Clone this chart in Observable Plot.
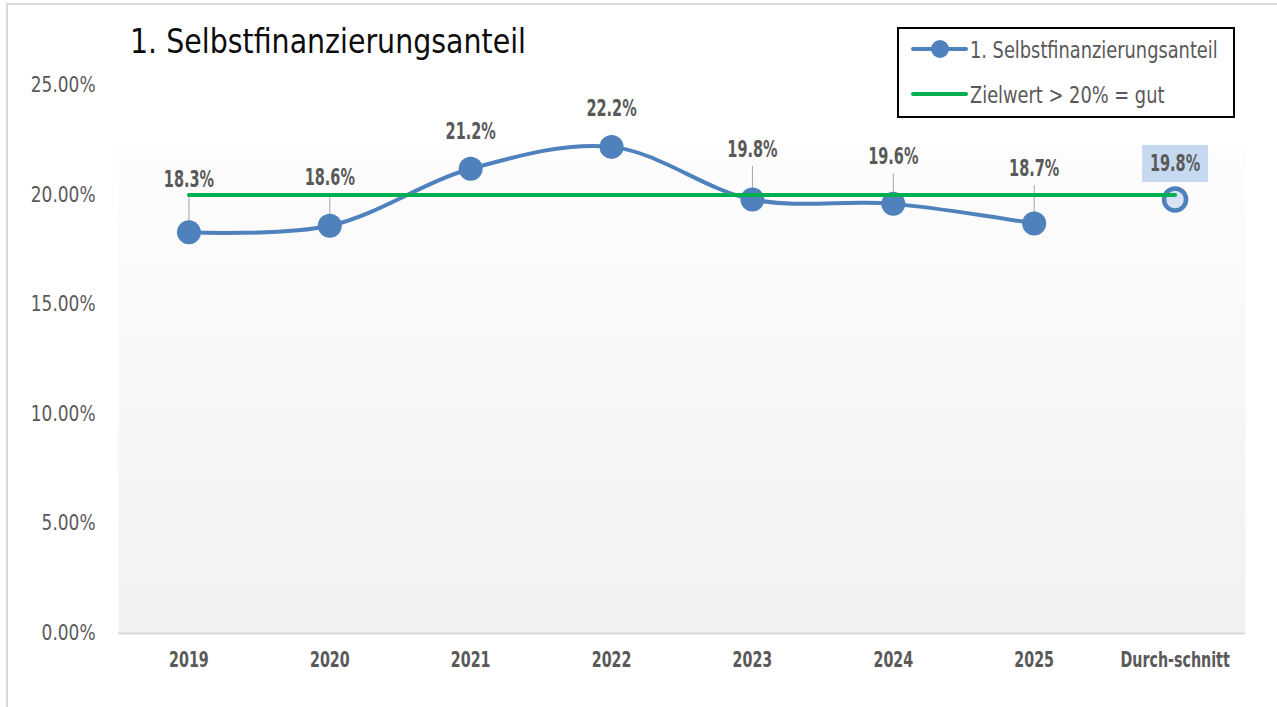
<!DOCTYPE html>
<html>
<head>
<meta charset="utf-8">
<script src="https://cdn.jsdelivr.net/npm/d3@7"></script>
<script src="https://cdn.jsdelivr.net/npm/@observablehq/plot@0.6"></script>
<style>
  body { margin: 0; background: #fff; }
  #wrap { position: relative; width: 1277px; height: 707px; overflow: hidden;
          font-family: "DejaVu Sans Condensed", "Roboto", sans-serif; }
  #border { position: absolute; left: 6px; top: 3px; width: 1400px; height: 900px;
            border: 2px solid #d9d9d9; box-sizing: border-box; }
  #chart { position: absolute; left: 0; top: 0; }
  #title { position: absolute; left: 130px; top: 24px; font-size: 34px; line-height: 1;
           color: #0d0d0d; white-space: nowrap; transform: scaleX(0.93); transform-origin: 0 0; }
  #legend { position: absolute; left: 897px; top: 27px; width: 338px; height: 91px;
            border: 2px solid #000; background: #fff; box-sizing: border-box; }
  #legend svg { position: absolute; left: 0; top: 0; overflow: visible; }
</style>
</head>
<body>
<div id="wrap">
  <div id="border"></div>
  <div id="chart"></div>
  <div id="title">1. Selbstfinanzierungsanteil</div>
  <div id="legend"></div>
</div>
<script>
// ---- data ----
const categories = ["2019", "2020", "2021", "2022", "2023", "2024", "2025", "Durch-schnitt"];
const years = ["2019", "2020", "2021", "2022", "2023", "2024", "2025"];
const values = [0.183, 0.186, 0.212, 0.222, 0.198, 0.196, 0.187];
const averageLabel = "Durch-schnitt";
const averageValue = 0.198;
const targetValue = 0.20;
const yTicks = [0, 0.05, 0.10, 0.15, 0.20, 0.25];
const seriesName = "1. Selbstfinanzierungsanteil";
const targetName = "Zielwert > 20% = gut";

// ---- layout (label placement offsets in px, leader lines) ----
const labelDy = [-53, -48, -37, -38, -50, -47, -55, -36];
const hasLeader = [true, true, false, false, true, true, true, false];

const W = 1277, H = 707;
const yTop = 85, yBottom = 633;
const pxPerUnit = (yBottom - yTop) / 0.25;

const series = years.map((c, i) => ({cat: c, v: values[i], dy: labelDy[i], leader: hasLeader[i]}));
const avg = [{cat: averageLabel, v: averageValue, dy: labelDy[7]}];
const target = categories.map(c => ({cat: c, v: targetValue}));
const labelY = d => d.v - d.dy / pxPerUnit;
const fmt = d3.format(".1%");

const blue = "#4f81bd", green = "#00b050", grey = "#595959";
const font = '"DejaVu Sans Condensed", "Roboto", sans-serif';

const boxSymbol = { draw(ctx) { ctx.rect(-33, -18.5, 66, 37); } };

const chart = Plot.plot({
  width: W,
  height: H,
  marginLeft: 118,
  marginRight: 32,
  marginTop: 146,
  marginBottom: H - yBottom,
  style: { background: "transparent", fontFamily: font, color: grey, overflow: "visible" },
  x: { type: "point", domain: categories, padding: 0.5, round: false },
  y: { domain: [0, 0.25], range: [yBottom, yTop] },
  marks: [
    Plot.frame({ fill: "url(#bgGrad)", stroke: null }),
    Plot.ruleY([0], { stroke: "#d9d9d9", strokeWidth: 2 }),
    Plot.axisY({ ticks: yTicks, tickFormat: d3.format(".2%"), tickSize: 0, tickPadding: 23,
                 fontSize: 20.5, fill: grey, label: null }),
    Plot.axisX({ tickSize: 0, tickPadding: 18, fontSize: 22, fontWeight: "bold", fill: grey, label: null }),
    Plot.ruleX(series.filter(d => d.leader), {
      x: "cat", y1: "v", y2: d => d.v - (d.dy + 17) / pxPerUnit, stroke: "#a6a6a6", strokeWidth: 1
    }),
    Plot.line(series, { x: "cat", y: "v", curve: "catmull-rom", stroke: blue, strokeWidth: 4 }),
    Plot.dot(series, { x: "cat", y: "v", r: 12, fill: blue }),
    Plot.dot(avg, { x: "cat", y: "v", r: 11, fill: "#dae3f3", stroke: blue, strokeWidth: 4.5 }),
    Plot.line(target, { x: "cat", y: "v", stroke: green, strokeWidth: 4 }),
    Plot.dot(avg, { x: "cat", y: labelY, symbol: boxSymbol, r: 5, fill: "#c6d9f1", stroke: null }),
    Plot.text(series.concat(avg), { x: "cat", y: labelY, text: d => fmt(d.v), fontSize: 23,
                                    fontWeight: "bold", fill: grey })
  ]
});

d3.select(chart).insert("defs", ":first-child").html(
  '<linearGradient id="bgGrad" x1="0" y1="0" x2="0" y2="1">' +
  '<stop offset="0" stop-color="#fdfdfd"/><stop offset="1" stop-color="#f1f1f1"/></linearGradient>'
);
document.getElementById("chart").appendChild(chart);

// condense text horizontally (the original uses a condensed typeface)
function squeeze(sel, factor) {
  sel.each(function () {
    const len = this.getComputedTextLength();
    if (len > 0) {
      this.setAttribute("textLength", (len * factor).toFixed(1));
      this.setAttribute("lengthAdjust", "spacingAndGlyphs");
    }
  });
}
squeeze(d3.select(chart).selectAll('g[aria-label="y-axis tick label"] text'), 0.92);
squeeze(d3.select(chart).selectAll('g[aria-label="x-axis tick label"] text'), 0.72);
squeeze(d3.select(chart).selectAll('g[aria-label="text"] text'), 0.70);

// ---- legend ----
const leg = d3.select("#legend").append("svg").attr("width", 334).attr("height", 87);
const rows = [
  { name: seriesName, color: blue, dot: true, y: 20 },
  { name: targetName, color: green, dot: false, y: 65 }
];
rows.forEach(r => {
  leg.append("line").attr("x1", 14).attr("x2", 67).attr("y1", r.y).attr("y2", r.y)
     .attr("stroke", r.color).attr("stroke-width", 4).attr("stroke-linecap", "round");
  if (r.dot) leg.append("circle").attr("cx", 41).attr("cy", r.y).attr("r", 9).attr("fill", r.color);
  leg.append("text").attr("x", 71).attr("y", r.y + 8.5).attr("font-size", 23).attr("fill", grey)
     .attr("font-family", font).text(r.name);
});
squeeze(leg.selectAll("text"), 0.86);
</script>
</body>
</html>
